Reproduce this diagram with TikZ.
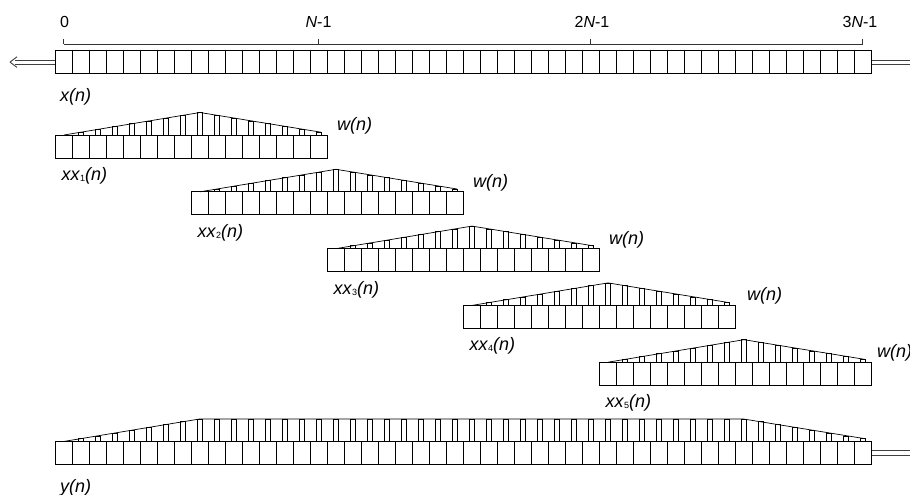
\documentclass[tikz,border=0pt]{standalone}
\usepackage{fontspec}
\setmainfont{Liberation Sans}
\newcommand\subdig[1]{\raisebox{-1.5pt}{\fontsize{9}{10}\selectfont #1}}
\begin{document}
\begin{tikzpicture}[x=1pt,y=-1pt,
  cellline/.style={draw=black,line width=0.8pt},
  barline/.style={draw=black,line width=0.7pt},
  axisline/.style={draw=black!80,line width=0.7pt},
  ticklbl/.style={inner sep=0pt,font=\fontsize{16}{18}\selectfont},
  lbl/.style={inner sep=0pt,font=\fontsize{18}{20}\selectfont},
  railline/.style={draw=black!75,line width=0.9pt}]
\useasboundingbox (0,0) rectangle (910,495);
% double lines (in/out)
\coordinate (xla) at (55,60);  \coordinate (xlb) at (55,64.2);
\coordinate (xta) at (15,60);  \coordinate (xtb) at (15,64.2);
\coordinate (h1) at (17,56.8); \coordinate (htip) at (10,62.1); \coordinate (h2) at (17,67.4);
\draw[railline] (xla) -- (xta);
\draw[railline] (xlb) -- (xtb);
\draw[railline,line join=round] (h1) -- (htip) -- (h2);
\coordinate (xra) at (871,60);  \coordinate (xrb) at (871,64.3);
\coordinate (xea) at (910,60);  \coordinate (xeb) at (910,64.3);
\draw[railline] (xra) -- (xea);
\draw[railline] (xrb) -- (xeb);
\coordinate (yra) at (871,450.5);  \coordinate (yrb) at (871,455.5);
\coordinate (yea) at (910,450.5);  \coordinate (yeb) at (910,455.5);
\draw[railline] (yra) -- (yea);
\draw[railline] (yrb) -- (yeb);
% top strip x(n)
\draw[cellline] (55,50) rectangle (871,73);
\foreach \i in {1,...,47} \draw[cellline] (55+17*\i,50) -- (55+17*\i,73);
% axis
\coordinate (a0) at (63.5,44);
\coordinate (a3) at (862.5,44);
\draw[axisline] (a0) -- (a3);
\foreach \i in {0,15,31,47} \draw[axisline] (63.5+17*\i,44) -- (63.5+17*\i,39.5);
\node[ticklbl] (t0) at (64.5,22) {0};
\node[ticklbl] (t1) at (318.5,22) {\textit{N}-1};
\node[ticklbl] (t2) at (592,22) {2\textit{N}-1};
\node[ticklbl] (t3) at (860,22) {3\textit{N}-1};
\node[lbl,anchor=west] (xn) at (60,97) {\textit{x(n)}};
% windows
\foreach \k in {0,...,4}{
  \begin{scope}[shift={(55.5+136*\k,135+56.8*\k)}]
    \draw[cellline] (0,0) rectangle (272,23);
    \foreach \i in {1,...,15} \draw[cellline] (17*\i,0) -- (17*\i,23);
    \foreach \n in {1,...,15}{
      \pgfmathsetmacro\h{22.5*min(\n,16-\n)/8}
      \draw[barline] (17*\n+6,0) rectangle (17*\n+11,-\h);
    }
    \draw[barline] (8.5,0) -- (144.5,-22.5) -- (265.5,-2.8);
  \end{scope}
}
\node[lbl,anchor=west] (w1) at (337,126) {\textit{w(n)}};
\node[lbl,anchor=west] (w2) at (473,183) {\textit{w(n)}};
\node[lbl,anchor=west] (w3) at (609,240) {\textit{w(n)}};
\node[lbl,anchor=west] (w4) at (747,296) {\textit{w(n)}};
\node[lbl,anchor=west] (w5) at (877,353) {\textit{w(n)}};
\node[lbl,anchor=west] (xx1) at (61.5,175.5) {\textit{xx}\subdig{1}\textit{(n)}};
\node[lbl,anchor=west] (xx2) at (197.5,232.5) {\textit{xx}\subdig{2}\textit{(n)}};
\node[lbl,anchor=west] (xx3) at (333.5,289.5) {\textit{xx}\subdig{3}\textit{(n)}};
\node[lbl,anchor=west] (xx4) at (469.5,345.5) {\textit{xx}\subdig{4}\textit{(n)}};
\node[lbl,anchor=west] (xx5) at (605.5,402.5) {\textit{xx}\subdig{5}\textit{(n)}};
% bottom strip y(n)
\draw[cellline] (55,441.5) rectangle (871,464.5);
\foreach \i in {1,...,47} \draw[cellline] (55+17*\i,441.5) -- (55+17*\i,464.5);
\foreach \n in {1,...,47}{
  \pgfmathsetmacro\h{22.5*min(min(\n,8),48-\n)/8}
  \draw[barline] (55+17*\n+6,441.5) rectangle (55+17*\n+11,441.5-\h);
}
\draw[barline] (63.5,441.5) -- (199.5,419) -- (743.5,419) -- (865,438.7);
\node[lbl,anchor=west] (yn) at (60,488) {\textit{y(n)}};
\end{tikzpicture}
\end{document}
